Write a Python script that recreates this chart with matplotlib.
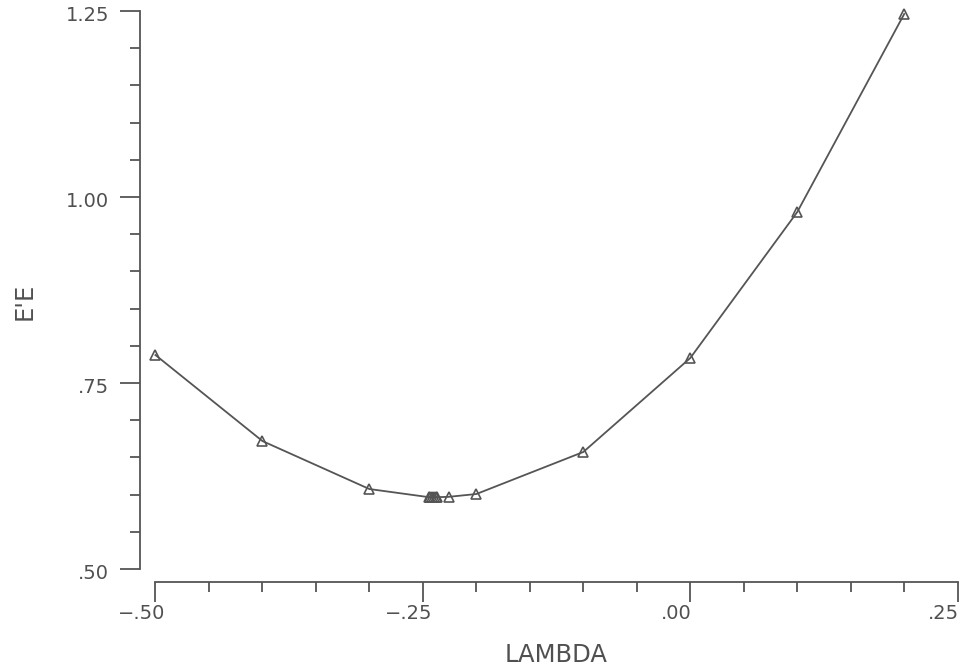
import matplotlib
matplotlib.use("Agg")
import matplotlib.pyplot as plt
import matplotlib.transforms as mtransforms
from matplotlib.ticker import MultipleLocator, FuncFormatter

# Box-Cox style search: error sum of squares vs lambda
lam = [-0.5, -0.4, -0.3, -0.2445, -0.2429, -0.2413, -0.2397, -0.2381, -0.2365, -0.226, -0.2, -0.1, 0.0, 0.1, 0.2]
ee = [0.7876, 0.672, 0.6075, 0.5966, 0.5965, 0.5965, 0.5965, 0.5965, 0.5966, 0.597, 0.6008, 0.6573, 0.7836, 0.9798, 1.246]

xticks = [-0.5, -0.25, 0.0, 0.25]
yticks = [0.5, 0.75, 1.0, 1.25]

grey = '#555555'
txt = '#505050'


def sas_fmt(v, pos):
    s = f"{abs(v):.2f}"
    if abs(v) < 1:
        s = s[1:]
    return ("\u2212" if v < -1e-9 else "") + s


fig = plt.figure(figsize=(9.71, 6.67), dpi=100)
ax = fig.add_axes([0.1601, 0.1469, 0.8262, 0.8366])

ax.plot(lam, ee, color=grey, lw=1.3, marker='^', markersize=7,
        markerfacecolor='none', markeredgecolor=grey, markeredgewidth=1.2,
        clip_on=False)

ax.set_xlim(-0.5, 0.25)
ax.set_ylim(0.5, 1.25)
ax.set_xticks(xticks)
ax.set_yticks(yticks)
ax.xaxis.set_minor_locator(MultipleLocator(0.05))
ax.yaxis.set_minor_locator(MultipleLocator(0.05))
ax.xaxis.set_major_formatter(FuncFormatter(sas_fmt))
ax.yaxis.set_major_formatter(FuncFormatter(sas_fmt))

for s in ['top', 'right']:
    ax.spines[s].set_visible(False)
ax.spines['left'].set_position(('outward', 11))
ax.spines['bottom'].set_position(('outward', 9.5))
for s in ['left', 'bottom']:
    ax.spines[s].set_color(grey)
    ax.spines[s].set_linewidth(1.3)

ax.tick_params(which='major', length=14.5, width=1.3, color=grey,
               labelcolor=txt, labelsize=14)
ax.tick_params(which='minor', length=7, width=1.3, color=grey)
ax.tick_params(axis='y', which='major', pad=8)
ax.tick_params(axis='x', which='major', pad=1.5)

# x tick labels sit a bit left of their ticks
shift = mtransforms.ScaledTranslation(-0.14, 0, fig.dpi_scale_trans)
for lab in ax.get_xticklabels():
    lab.set_transform(lab.get_transform() + shift)
shift_y = mtransforms.ScaledTranslation(0, -0.02, fig.dpi_scale_trans)
for lab in ax.get_yticklabels():
    lab.set_transform(lab.get_transform() + shift_y)

fig.text(556.6 / 971, 1 - 662 / 667, 'LAMBDA', fontsize=17.5, color=txt,
         ha='center', va='baseline')
fig.text(24.5 / 971, 1 - 301 / 667, "E'E", fontsize=17.5, color=txt,
         ha='center', va='center', rotation=90)

fig.savefig('out.png', dpi=100)
